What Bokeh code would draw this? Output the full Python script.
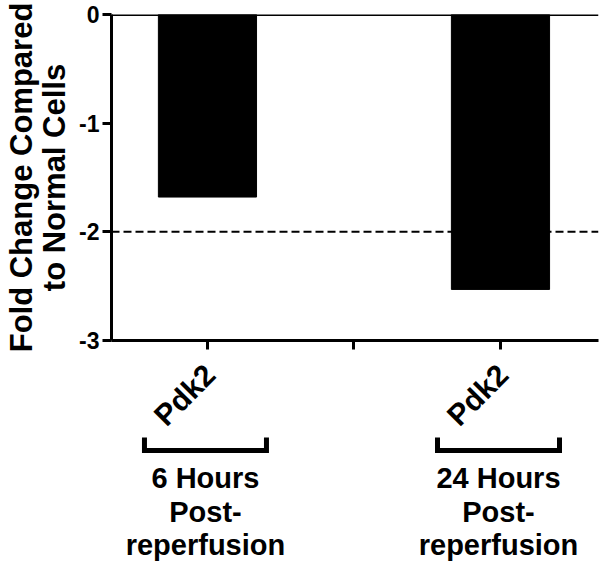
from math import pi
from bokeh.plotting import figure
from bokeh.layouts import column
from bokeh.models import Range1d, FixedTicker, Span, ColumnDataSource
from bokeh.core.properties import value
from bokeh.embed import file_html
from bokeh.resources import INLINE

# ---- data ----
categories = ["Pdk2", "Pdk2"]
group_labels = [["6 Hours", "Post-", "reperfusion"],
                ["24 Hours", "Post-", "reperfusion"]]
fold_change = [-1.68, -2.53]
reference_level = 0.0
threshold = -2.0
y_ticks = [-3, -2, -1, 0]
y_tick_labels = ["-3", "-2", "-1", "0"]
x_slots = [1, 3]
x_ticks = [1, 2, 3]
y_title = ["Fold Change Compared", "to Normal Cells"]

FONT = "Liberation Sans"
W = 600
AXIS_Y = 340              # pixel row of the x axis
H_TOP, H_BOT = 354, 212
BL, BR, BT = 111, 2, 14
BB = H_TOP - AXIS_Y
x_lo, x_hi = 0.345, 3.669
y_lo, y_hi = -3.0, 0.0
ppu_x = (W - BL - BR) / (x_hi - x_lo)

def dx(px):
    return px / ppu_x

x_range = Range1d(x_lo, x_hi)

# ---------------- main chart ----------------
p = figure(width=W, height=H_TOP, output_backend="svg", toolbar_location=None,
           x_range=x_range, y_range=Range1d(y_lo, y_hi),
           min_border_left=BL, min_border_right=BR, min_border_top=BT,
           min_border_bottom=BB)
p.outline_line_color = None
p.grid.visible = False

src = ColumnDataSource(dict(x=x_slots, top=[reference_level] * len(x_slots), bottom=fold_change))
p.vbar(x="x", top="top", bottom="bottom", width=0.67, source=src,
       fill_color="black", line_color="black")

p.add_layout(Span(location=reference_level, dimension="width", line_color="black", line_width=3))
p.add_layout(Span(location=threshold, dimension="width", line_color="black",
                  line_width=2, line_dash="8 4"))

for ax in (p.xaxis[0], p.yaxis[0]):
    ax.axis_line_width = 3
    ax.axis_line_color = "black"
    ax.major_tick_line_width = 3
    ax.major_tick_line_color = "black"
    ax.major_tick_out = 9
    ax.major_tick_in = 0
    ax.minor_tick_line_color = None

yax = p.yaxis[0]
yax.ticker = FixedTicker(ticks=y_ticks)
yax.major_label_overrides = {t: l for t, l in zip(y_ticks, y_tick_labels)}
yax.major_label_text_font = FONT
yax.major_label_text_font_style = "bold"
yax.major_label_text_font_size = "23px"
yax.major_label_text_color = "black"
yax.major_label_standoff = 3
yax.axis_label = "\n".join(y_title)
yax.axis_label_text_font = FONT
yax.axis_label_text_font_style = "bold"
yax.axis_label_text_font_size = "31px"
yax.axis_label_text_color = "black"
yax.axis_label_text_line_height = 0.95
yax.axis_label_standoff = 4

xax = p.xaxis[0]
xax.ticker = FixedTicker(ticks=x_ticks)
xax.major_label_overrides = {t: "" for t in x_ticks}
xax.major_label_text_font_size = "0px"
xax.major_label_standoff = 0

# ---------------- category + group labels below ----------------
q = figure(width=W, height=H_BOT, output_backend="svg", toolbar_location=None,
           x_range=x_range,
           y_range=Range1d(-(H_TOP + H_BOT - AXIS_Y), -(H_TOP - AXIS_Y)),
           x_axis_location=None, y_axis_location=None,
           min_border_left=BL, min_border_right=BR, min_border_top=0, min_border_bottom=0)
q.outline_line_color = None
q.grid.visible = False

# vertical positions: pixels below the x axis, as negative y
cat_y = -54.5
bracket_y, bracket_tip = -110, -97
line_y = [-137, -171, -204]
half = dx(61)

q.text(x=[s - dx(23) for s in x_slots], y=[cat_y] * len(x_slots), text=categories,
       angle=pi / 4, text_align="center", text_baseline="middle",
       text_font=value(FONT), text_font_style="bold", text_font_size="30px",
       text_color="black")

bx, by = [], []
tx, ty, tt = [], [], []
for s, grp in zip(x_slots, group_labels):
    cx = s - dx(2)
    bx.append([cx - half, cx - half, cx + half, cx + half])
    by.append([bracket_tip, bracket_y, bracket_y, bracket_tip])
    for yy, line in zip(line_y, grp):
        tx.append(cx)
        ty.append(yy)
        tt.append(line)

q.multi_line(xs=bx, ys=by, line_color="black", line_width=5, line_join="miter")
q.text(x=tx, y=ty, text=tt, text_align="center", text_baseline="alphabetic",
       text_font=value(FONT), text_font_style="bold", text_font_size="29px",
       text_color="black")

layout = column(p, q, spacing=0)
open("out.html", "w").write(file_html(layout, INLINE))
